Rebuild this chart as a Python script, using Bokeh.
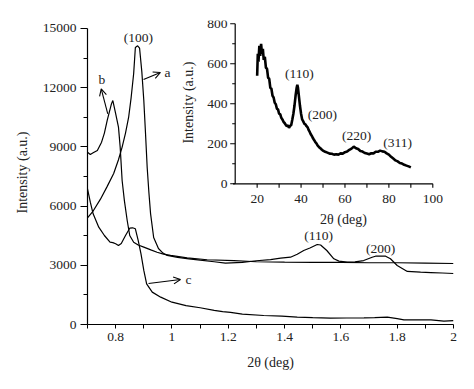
import math
from bokeh.plotting import figure
from bokeh.models import Range1d, Label, Arrow, OpenHead, FixedTicker
from bokeh.embed import file_html
from bokeh.resources import INLINE

# ---------------- data ----------------
a_x = [0.70, 0.72, 0.746, 0.77, 0.793, 0.81, 0.823, 0.835, 0.846, 0.855, 0.864, 0.87, 0.878, 0.885,
       0.893, 0.90, 0.906, 0.912, 0.918, 0.924, 0.935, 0.952, 0.968, 0.983, 1.02, 1.06, 1.10, 1.15, 1.19,
       1.25, 1.30, 1.35, 1.386, 1.421, 1.445, 1.468, 1.49, 1.516, 1.528, 1.55, 1.575, 1.593, 1.622, 1.65,
       1.681, 1.711, 1.723, 1.74, 1.759, 1.776, 1.80, 1.836, 1.883, 1.92, 1.96, 2.0]
a_y = [5400, 5750, 6350, 7000, 7650, 8350, 8990, 9700, 10490, 11500, 12720, 14040, 14120, 14000,
       12800, 11350, 9700, 7960, 6700, 5620, 4410, 3850, 3620, 3500, 3400, 3330, 3260, 3180, 3110,
       3150, 3230, 3290, 3360, 3410, 3560, 3750, 3880, 4054, 4030, 3750, 3330, 3210, 3160, 3170,
       3240, 3410, 3460, 3470, 3460, 3330, 2990, 2690, 2650, 2630, 2610, 2585]

b_x = [0.70, 0.71, 0.72, 0.735, 0.75, 0.76, 0.77, 0.785, 0.79, 0.80, 0.81, 0.816, 0.823, 0.831, 0.841,
       0.85, 0.864, 0.88, 0.90, 0.925, 0.947, 0.97, 0.995, 1.054, 1.125, 1.22, 1.30, 1.40, 1.50, 1.60,
       1.70, 1.80, 1.90, 2.0]
b_y = [8730, 8615, 8700, 8820, 9240, 9700, 10340, 11180, 11350, 10680, 10000, 9000, 7300, 6280, 5270,
       4510, 4170, 4030, 3920, 3780, 3660, 3570, 3500, 3380, 3280, 3240, 3180, 3160, 3150, 3150,
       3130, 3130, 3110, 3090]

c_x = [0.70, 0.71, 0.72, 0.74, 0.76, 0.78, 0.79, 0.80, 0.81, 0.82, 0.835, 0.85, 0.86, 0.87, 0.88,
       0.89, 0.90, 0.91, 0.93, 0.96, 1.0, 1.05, 1.10, 1.15, 1.18, 1.208, 1.25, 1.326, 1.39, 1.445,
       1.50, 1.563, 1.62, 1.682, 1.72, 1.765, 1.80, 1.824, 1.87, 1.92, 1.966, 2.0]
c_y = [6875, 6200, 5610, 4930, 4510, 4170, 4150, 4090, 4000, 4100, 4510, 4880, 4900, 4850, 4260,
       3580, 2740, 2060, 1640, 1385, 1130, 960, 850, 720, 650, 610, 530, 456, 420, 372,
       345, 321, 330, 338, 350, 372, 300, 236, 240, 236, 169, 200]

inset_x = [20.0, 20.3, 20.6, 21.0, 21.4, 21.8, 22.2, 22.6, 23.0, 23.5, 24.0, 24.5, 25.0, 25.5, 26.0,
           26.5, 27.0, 27.5, 28.0, 28.5, 29.0, 29.5, 30.0, 30.5, 31.0, 31.5, 32.0, 32.5, 33.0, 33.5,
           34.0, 34.5, 35.0, 35.5, 36.0, 36.5, 37.0, 37.5, 38.0, 38.3, 38.6, 39.0, 39.5, 40.0, 40.5,
           41.0, 41.5, 42.0, 42.5, 43.0, 43.5, 44.0, 44.5, 45.0, 45.5, 46.0, 46.5, 47.0, 47.5, 48.0,
           48.5, 49.0, 49.5, 50.0, 51.0, 52.0, 53.0, 54.0, 55.0, 56.0, 57.0, 58.0, 59.0, 60.0, 61.0,
           62.0, 63.0, 64.0, 65.0, 66.0, 67.0, 68.0, 69.0, 70.0, 71.0, 72.0, 73.0, 74.0, 75.0, 76.0,
           77.0, 78.0, 79.0, 80.0, 81.0, 82.0, 83.0, 84.0, 85.0, 86.0, 87.0, 88.0, 89.0, 90.0]
inset_y = [540, 650, 610, 690, 640, 700, 650, 675, 620, 635, 580, 575, 530, 525, 480,
           475, 440, 432, 405, 398, 375, 372, 350, 348, 330, 322, 310, 304, 295, 288,
           292, 280, 290, 293, 320, 350, 390, 440, 480, 495, 480, 440, 390, 350, 322,
           312, 300, 297, 288, 282, 268, 258, 246, 238, 226, 218, 208, 202, 192, 186,
           180, 176, 170, 166, 160, 156, 151, 150, 146, 148, 146, 152, 151, 158, 161,
           170, 176, 186, 178, 174, 164, 161, 154, 151, 148, 153, 152, 160, 160, 166,
           162, 160, 152, 146, 135, 126, 117, 112, 104, 101, 95, 91, 87, 82]

main_yticks = [0, 3000, 6000, 9000, 12000, 15000]
main_xticks = [0.8, 1.0, 1.2, 1.4, 1.6, 1.8, 2.0]
inset_xticks = [20, 40, 60, 80, 100]
inset_yticks = [0, 200, 400, 600, 800]

FONT = "Liberation Serif"

# ---------------- main figure ----------------
p = figure(width=466, height=381, output_backend="svg", toolbar_location=None,
           x_range=Range1d(0.7, 2.0), y_range=Range1d(0, 15405),
           min_border_left=87, min_border_right=13, min_border_top=20, min_border_bottom=57)
p.outline_line_color = None
p.xgrid.visible = False
p.ygrid.visible = False
p.background_fill_color = "white"

p.extra_x_ranges = {"ix": Range1d(-57.27, 109.43)}
p.extra_y_ranges = {"iy": Range1d(-703.5, 816.5)}

xa = p.xaxis[0]
xa.ticker = FixedTicker(ticks=main_xticks, minor_ticks=[0.7, 0.9, 1.1, 1.3, 1.5, 1.7, 1.9])
xa.major_label_overrides = {0.8: "0.8", 1.0: "1", 1.2: "1.2", 1.4: "1.4", 1.6: "1.6", 1.8: "1.8", 2.0: "2"}
xa.axis_label = "2θ (deg)"
ya = p.yaxis[0]
ya.ticker = FixedTicker(ticks=main_yticks, minor_ticks=[1500, 4500, 7500, 10500, 13500])
ya.bounds = (0, 15000)
ya.axis_label = "Intensity (a.u.)"
for ax in (xa, ya):
    ax.axis_line_color = "black"
    ax.axis_line_width = 1.2
    ax.major_tick_line_color = "black"
    ax.minor_tick_line_color = "black"
    ax.major_tick_in = 0
    ax.minor_tick_in = 0
    ax.major_label_text_font = FONT
    ax.major_label_text_font_size = "13.5px"
    ax.major_label_text_color = "#222222"
    ax.axis_label_text_font = FONT
    ax.axis_label_text_font_size = "14px"
    ax.axis_label_text_font_style = "normal"
    ax.axis_label_text_color = "#222222"
xa.major_tick_out = 4
xa.minor_tick_out = 4
xa.major_label_standoff = 4
xa.axis_label_standoff = 11
ya.major_tick_out = 7
ya.minor_tick_out = 4
ya.major_label_standoff = 4
ya.axis_label_standoff = 10

for xs, ys in ((a_x, a_y), (b_x, b_y), (c_x, c_y)):
    p.line(xs, ys, line_color="black", line_width=1.2)

def lab(x, y, t, align="center", rx=None, ry=None, size="13.5px", angle=0.0):
    kw = {}
    if rx:
        kw["x_range_name"] = rx
    if ry:
        kw["y_range_name"] = ry
    p.add_layout(Label(x=x, y=y, text=t, text_align=align, text_baseline="middle",
                       text_font=FONT, text_font_size=size, text_color="#222222",
                       angle=angle, **kw))

lab(0.881, 14544, "(100)")
lab(1.5206, 4510, "(110)")
lab(1.7408, 3851, "(200)")
lab(0.9735, 12770, "a", align="left")
lab(0.7515, 12400, "b")
lab(1.048, 2280, "c", align="left")

head = dict(size=7, line_width=1.1, line_color="black")
p.add_layout(Arrow(end=OpenHead(**head), x_start=0.899, y_start=12416, x_end=0.959, y_end=12770,
                   line_width=1.1, line_color="black"))
p.add_layout(Arrow(end=OpenHead(**head), x_start=0.772, y_start=10677, x_end=0.7487, y_end=11944,
                   line_width=1.1, line_color="black"))
p.add_layout(Arrow(end=OpenHead(**head), x_start=0.9167, y_start=2078, x_end=1.0303, y_end=2280,
                   line_width=1.1, line_color="black"))

# ---------------- inset (drawn on extra ranges) ----------------
R = dict(x_range_name="ix", y_range_name="iy")
ux = 1 / 2.1956  # inset x units per pixel
uy = 5.0         # inset y units per pixel
x0, x1 = 10, 100
y0, y1 = 0, 800

p.line(inset_x, inset_y, line_color="black", line_width=2.6, **R)

# axis lines
p.segment(x0=[x0, x0 - 1.0], y0=[y0, y0], x1=[x0, x1], y1=[y1, y0], line_color="black", line_width=1.2, **R)
# y ticks
ymin = [100, 300, 500, 700]
p.segment(x0=[x0 - 5 * ux] * len(inset_yticks), y0=inset_yticks, x1=[x0] * len(inset_yticks), y1=inset_yticks,
          line_color="black", line_width=1.1, **R)
p.segment(x0=[x0 - 3 * ux] * len(ymin), y0=ymin, x1=[x0] * len(ymin), y1=ymin,
          line_color="black", line_width=1.1, **R)
# x ticks
xmin = [30, 50, 70, 90]
p.segment(x0=inset_xticks, y0=[y0 - 4 * uy] * len(inset_xticks), x1=inset_xticks, y1=[y0] * len(inset_xticks),
          line_color="black", line_width=1.1, **R)
p.segment(x0=xmin, y0=[y0 - 4 * uy] * len(xmin), x1=xmin, y1=[y0] * len(xmin),
          line_color="black", line_width=1.1, **R)

for t in inset_yticks:
    lab(x0 - 7.7 * ux, t, str(t), align="right", rx="ix", ry="iy")
for t in inset_xticks:
    lab(t, y0 - 14.7 * uy, str(t), rx="ix", ry="iy")
lab(59.3, -180, "2θ (deg)", rx="ix", ry="iy", size="14px")
lab(-11.3, 406, "Intensity (a.u.)", rx="ix", ry="iy", size="14px", angle=math.pi / 2)

lab(39.2, 551, "(110)", rx="ix", ry="iy")
lab(49.7, 346, "(200)", rx="ix", ry="iy")
lab(65.3, 241, "(220)", rx="ix", ry="iy")
lab(84.0, 206, "(311)", rx="ix", ry="iy")

open("out.html", "w").write(file_html(p, INLINE))
